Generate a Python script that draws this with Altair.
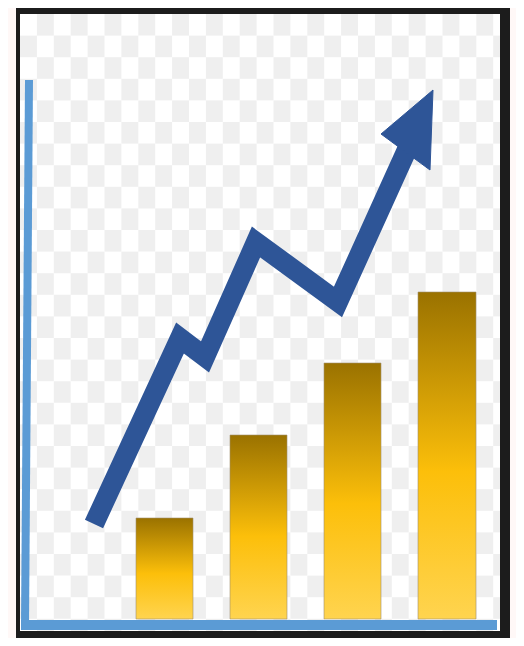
import altair as alt
import pandas as pd

# ---- values (pixel-like data units) ----
# bars: left / right edges and heights above the baseline
bar_left = [116, 210, 304, 398]
bar_right = [173, 267, 361, 456]
bar_value = [101, 184, 256, 327]

# zig-zag trend line (centre-line vertices)
line_x = [74, 160, 185, 236, 318, 390]
line_y = [95, 281, 262, 377, 317, 476]

# arrow head triangle (closed)
head_x = [413, 361, 410, 413]
head_y = [529, 485, 449, 529]

# blue axis strokes
haxis_x = [1, 477]
haxis_y = [-6, -6]
vaxis_x = [9, 5]
vaxis_y = [539, -6]

# frame / panel extents
frame_x = [-4, 490]
frame_y = [-27, 617]
panel_x = [0, 480]
panel_y = [-12, 605]

# checkerboard background cell size
cell_w = 16.9
cell_h = 21.6
n_cols = 29
n_rows = 29

X = alt.Scale(domain=[0, 480], nice=False, zero=False)
Y = alt.Scale(domain=[-12, 605], nice=False, zero=False)

def xq(f):
    return alt.X(f, type="quantitative", scale=X, axis=None)

def yq(f):
    return alt.Y(f, type="quantitative", scale=Y, axis=None)

frame_df = pd.DataFrame({"x": [frame_x[0]], "x2": [frame_x[1]], "y": [frame_y[0]], "y2": [frame_y[1]]})
panel_df = pd.DataFrame({"x": [panel_x[0]], "x2": [panel_x[1]], "y": [panel_y[0]], "y2": [panel_y[1]]})

cells = []
for r in range(n_rows):
    for c in range(n_cols):
        if (r + c) % 2 == 1:
            top = panel_y[1] - r * cell_h
            cells.append({"x": c * cell_w, "x2": (c + 1) * cell_w, "y": top, "y2": top - cell_h})
check_df = pd.DataFrame(cells)

bars_df = pd.DataFrame({"l": bar_left, "r": bar_right, "v": bar_value})
line_df = pd.DataFrame({"x": line_x, "y": line_y, "i": list(range(len(line_x)))})
head_df = pd.DataFrame({"x": head_x, "y": head_y, "i": list(range(len(head_x)))})
hax_df = pd.DataFrame({"x": [haxis_x[0]], "x2": [haxis_x[1]], "y": [haxis_y[0]], "y2": [haxis_y[1]]})
vax_df = pd.DataFrame({"x": [vaxis_x[0]], "x2": [vaxis_x[1]], "y": [vaxis_y[0]], "y2": [vaxis_y[1]]})

frame = alt.Chart(frame_df).mark_rect(fill="#1c1c1c", clip=False).encode(
    x=xq("x"), x2="x2", y=yq("y"), y2="y2")
panel = alt.Chart(panel_df).mark_rect(fill="#ffffff").encode(
    x=xq("x"), x2="x2", y=yq("y"), y2="y2")
check = alt.Chart(check_df).mark_rect(fill="#efefef", clip=True).encode(
    x=xq("x"), x2="x2", y=yq("y"), y2="y2")

grad = alt.Gradient(
    gradient="linear", x1=0, y1=0, x2=0, y2=1,
    stops=[alt.GradientStop(offset=0, color="#9a7200"),
           alt.GradientStop(offset=0.55, color="#fcbf0a"),
           alt.GradientStop(offset=1, color="#ffd44f")])

bars = alt.Chart(bars_df).mark_rect(fill=grad, stroke="#a09070", strokeWidth=1, strokeOpacity=0.6).encode(
    x=xq("l"), x2="r", y=yq("v"), y2=alt.datum(0))

haxis = alt.Chart(hax_df).mark_rule(color="#5b9bd5", strokeWidth=10, strokeCap="butt").encode(
    x=xq("x"), x2="x2", y=yq("y"), y2="y2")
vaxis = alt.Chart(vax_df).mark_rule(color="#5b9bd5", strokeWidth=8, strokeCap="butt").encode(
    x=xq("x"), x2="x2", y=yq("y"), y2="y2")

trend = alt.Chart(line_df).mark_line(
    color="#2e5597", strokeWidth=20, strokeJoin="miter", strokeCap="butt", strokeMiterLimit=10
).encode(x=xq("x"), y=yq("y"), order=alt.Order("i:Q"))

head = alt.Chart(head_df).mark_line(
    color="#2e5597", fill="#2e5597", strokeWidth=1, strokeJoin="miter"
).encode(x=xq("x"), y=yq("y"), order=alt.Order("i:Q"))

chart = alt.layer(frame, panel, check, bars, haxis, vaxis, trend, head).properties(
    width=480, height=617,
    padding={"left": 12, "top": 6, "right": 16, "bottom": 7},
    autosize=alt.AutoSizeParams(type="none"),
    background="#fff8f7",
).configure_view(stroke=None)

chart.save("out.html", embed_options={"renderer": "svg", "actions": False})
